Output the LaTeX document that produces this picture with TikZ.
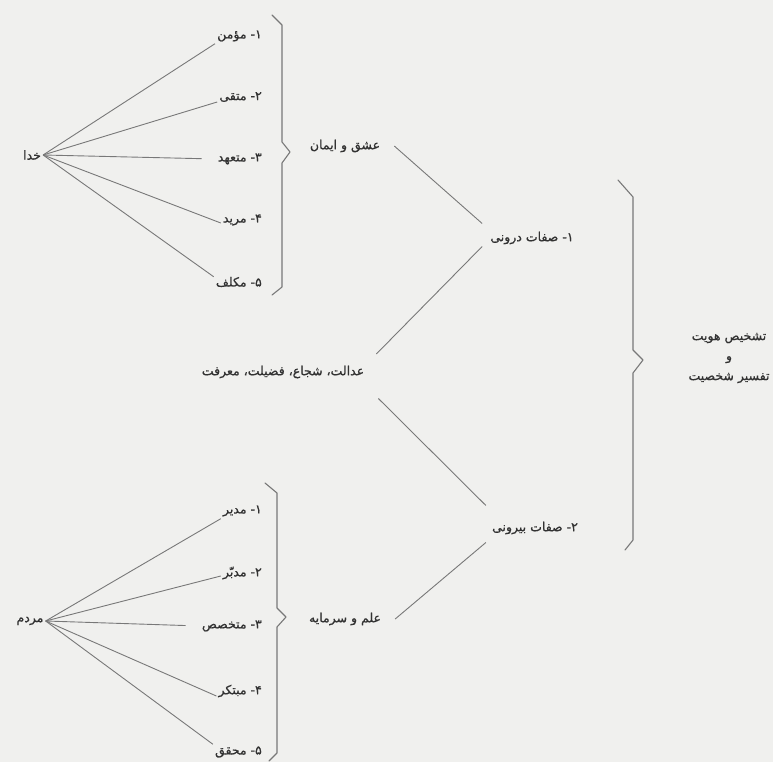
\documentclass[tikz,border=0pt]{standalone}
\usepackage{fontspec}
\newfontfamily\arabicfont[Script=Arabic, FakeBold=0.8]{DejaVu Sans}
\TeXXeTstate=1
\usetikzlibrary{positioning}
\definecolor{paper}{RGB}{240,240,238}
\definecolor{ink}{RGB}{50,50,50}
\definecolor{wire}{RGB}{120,120,120}

\begin{document}
\begin{tikzpicture}[
    x=1pt, y=1pt,
    every node/.style={font=\arabicfont\fontsize{12.5}{20}\selectfont, text=ink, inner sep=2pt},
    item/.style={anchor=east},
    link/.style={draw=wire, line width=0.9pt},
    bracket/.style={draw=wire, line width=1.1pt, line join=round, line cap=round}
]
\useasboundingbox (0,0) rectangle (773,-762);
\fill[paper] (0,0) rectangle (773,-762);

% Khoda
\node (khoda) at (32,-155) {\beginR خدا\endR};
\node[item] (kh1) at (264,-36) {\beginR ۱- مؤمن\endR};
\node[item] (kh2) at (264,-97) {\beginR ۲- متقی\endR};
\node[item] (kh3) at (264,-159) {\beginR ۳- متعهد\endR};
\node[item] (kh4) at (264,-220) {\beginR ۴- مرید\endR};
\node[item] (kh5) at (264,-282) {\beginR ۵- مکلف\endR};

\draw[link] (khoda.east) -- (kh1.south west);
\draw[link] (khoda.east) -- ([yshift=2pt]kh2.south west);
\draw[link, shorten >=14pt] (khoda.east) -- (kh3.west);
\draw[link] (khoda.east) -- ([yshift=-3pt]kh4.west);
\draw[link] (khoda.east) -- ([yshift=-2pt]kh5.north west);

\coordinate (b1top) at (272,-15);
\draw[bracket] (b1top) -- ++(10,-10) -- ++(0,-117) -- ++(8,-10) -- ++(-8,-11) -- ++(0,-124) -- ++(-10,-8);
\node (eshgh) at (345,-146) {\beginR عشق و ایمان\endR};

% Mardom
\node (mardom) at (30,-621) {\beginR مردم\endR};
\node[item] (m1) at (264,-511) {\beginR ۱- مدیر\endR};
\node[item] (m2) at (264,-573) {\beginR ۲- مدبّر\endR};
\node[item] (m3) at (264,-626) {\beginR ۳- متخصص\endR};
\node[item] (m4) at (264,-691) {\beginR ۴- مبتکر\endR};
\node[item] (m5) at (264,-752) {\beginR ۵- محقق\endR};

\draw[link] (mardom.east) -- (m1.south west);
\draw[link] (mardom.east) -- ([yshift=-3pt]m2.west);
\draw[link, shorten >=14pt] (mardom.east) -- (m3.west);
\draw[link] (mardom.east) -- ([yshift=-5pt]m4.west);
\draw[link] (mardom.east) -- (m5.north west);

\coordinate (b2top) at (265,-483);
\draw[bracket] (b2top) -- ++(12,-10) -- ++(0,-115) -- ++(9,-9) -- ++(-9,-10) -- ++(0,-126) -- ++(-8,-8);
\node (elm) at (345,-619) {\beginR علم و سرمایه\endR};

% Middle column
\node (adalat) at (283,-372) {\beginR عدالت، شجاع، فضیلت، معرفت\endR};
\node (daruni) at (532,-238) {\beginR ۱- صفات درونی\endR};
\node (biruni) at (535,-528) {\beginR ۲- صفات بیرونی\endR};

\draw[link] ([xshift=12pt]eshgh.east) -- ([shift={(-6pt,6pt)}]daruni.north west);
\draw[link] ([xshift=-6pt]daruni.south west) -- ([shift={(10pt,18pt)}]adalat.east);
\draw[link] ([shift={(12pt,-18pt)}]adalat.south east) -- ([shift={(-4pt,14pt)}]biruni.north west);
\draw[link] ([shift={(-4pt,-6pt)}]biruni.south west) -- ([xshift=12pt]elm.east);

% Title
\coordinate (b3top) at (618,-180);
\draw[bracket] (b3top) -- ++(15,-17) -- ++(0,-153) -- ++(10,-10) -- ++(-10,-13) -- ++(0,-167) -- ++(-8,-10);
\node[align=center] (title) at (729,-358) {\beginR تشخیص هویت\endR\\ \beginR و\endR\\ \beginR تفسیر شخصیت\endR};

\end{tikzpicture}
\end{document}
